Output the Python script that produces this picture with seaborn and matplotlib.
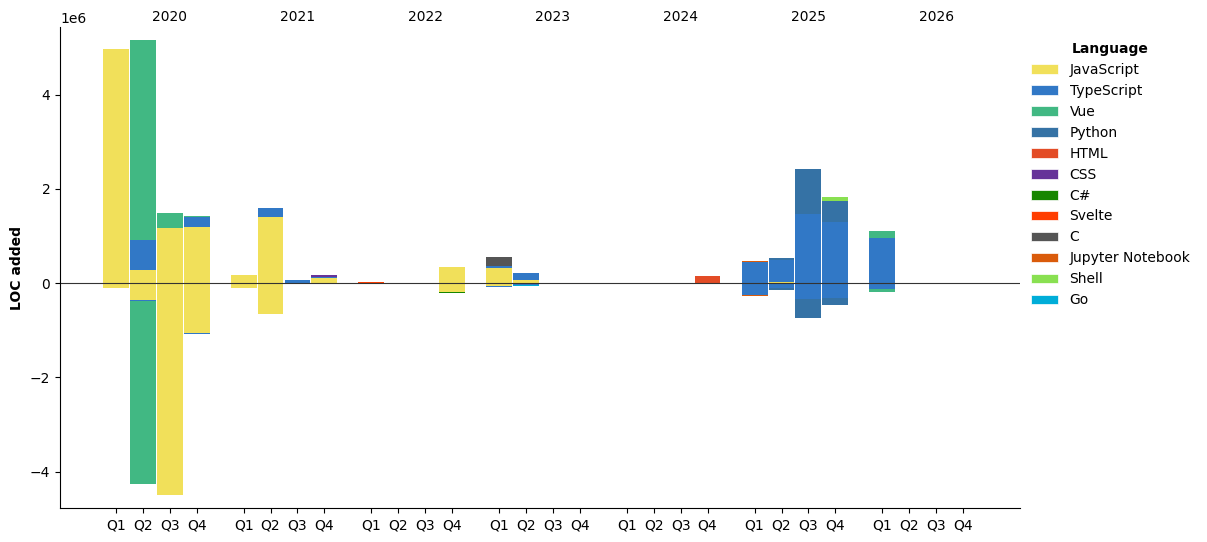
import matplotlib
matplotlib.use("Agg")
import matplotlib.pyplot as plt
from matplotlib.patches import Patch
import pandas as pd
import seaborn as sns

years = [2020, 2021, 2022, 2023, 2024, 2025, 2026]
quarters = ["Q1", "Q2", "Q3", "Q4"]
languages = ["JavaScript", "TypeScript", "Vue", "Python", "HTML", "CSS", "C#",
             "Svelte", "C", "Jupyter Notebook", "Shell", "Go"]

# LOC added / removed per quarter, in millions -> period: (added, removed)
javascript = {"2020Q1": (4.97, -0.11), "2020Q2": (0.27, -0.35), "2020Q3": (1.17, -4.50),
              "2020Q4": (1.19, -1.05), "2021Q1": (0.18, -0.10), "2021Q2": (1.41, -0.65),
              "2021Q4": (0.12, 0.0), "2022Q4": (0.35, -0.18), "2023Q1": (0.33, -0.07),
              "2023Q2": (0.07, -0.02), "2025Q2": (0.03, 0.0)}
typescript = {"2020Q2": (0.65, -0.035), "2020Q4": (0.21, -0.02), "2021Q2": (0.19, 0.0),
              "2021Q3": (0.07, -0.01), "2021Q4": (0.02, 0.0), "2023Q1": (0.035, -0.02),
              "2023Q2": (0.15, -0.02), "2025Q1": (0.45, -0.26), "2025Q2": (0.47, -0.10),
              "2025Q3": (1.47, -0.33), "2025Q4": (1.30, -0.31), "2026Q1": (0.96, -0.12)}
vue = {"2020Q2": (4.24, -3.88), "2020Q3": (0.31, 0.0), "2020Q4": (0.03, 0.0),
       "2026Q1": (0.15, -0.06)}
python = {"2025Q2": (0.04, -0.04), "2025Q3": (0.96, -0.40), "2025Q4": (0.45, -0.15)}
html = {"2024Q4": (0.156, 0.0)}
css = {"2021Q4": (0.04, -0.025)}
csharp = {"2022Q4": (0.0, -0.02)}
svelte = {"2022Q1": (0.025, 0.0)}
c_lang = {"2023Q1": (0.20, 0.0)}
jupyter = {"2025Q1": (0.02, -0.02)}
shell = {"2025Q4": (0.085, 0.0)}
go = {"2023Q2": (0.0, -0.02)}

lang_data = [javascript, typescript, vue, python, html, css, csharp,
             svelte, c_lang, jupyter, shell, go]
colors = ["#f1e05a", "#3178c6", "#41b883", "#3572a5", "#e34c26", "#663399",
          "#178600", "#ff3e00", "#555555", "#da5b0b", "#89e051", "#00add8"]
palette = dict(zip(languages, colors))

YEAR_STEP = 4.75


def pos(period):
    y = years.index(int(period[:4]))
    q = quarters.index(period[4:])
    return y * YEAR_STEP + q


rows = []
for lang, d in zip(languages, lang_data):
    rows.append((lang, 0.0, 0.0, 0.0))   # keep every hue level present
    for period, (added, removed) in d.items():
        rows.append((lang, pos(period), added * 1e6, removed * 1e6))
df = pd.DataFrame(rows, columns=["language", "x", "added", "removed"])

# bin edges: one bin per quarter, small gap between years
edges = []
for i in range(len(years)):
    s = i * YEAR_STEP
    edges += [s - 0.5, s + 0.5, s + 1.5, s + 2.5, s + 3.5]

fig = plt.figure(figsize=(12.07, 5.42), dpi=100)
ax = fig.add_axes([0.0497, 0.0622, 0.7954, 0.888])

for col in ["added", "removed"]:
    sns.histplot(data=df, x="x", weights=col, hue="language",
                 hue_order=languages[::-1], palette=palette, multiple="stack",
                 bins=edges, shrink=0.96, linewidth=0, alpha=1, legend=False, ax=ax)

ax.axhline(0, color="#333333", linewidth=0.8)

ticks = [i * YEAR_STEP + q for i in range(len(years)) for q in range(4)]
ax.set_xticks(ticks, quarters * len(years))
for i, yr in enumerate(years):
    ax.text(i * YEAR_STEP + 2, 1.006, str(yr), transform=ax.get_xaxis_transform(),
            ha="center", va="bottom", fontsize=10)

ax.set_xlim(-2.08, 33.62)
ax.set_ylim(-4.78e6, 5.44e6)
ax.set_xlabel("")
ax.set_ylabel("LOC added", fontweight="bold", fontsize=10)
sns.despine(ax=ax)

handles = [Patch(facecolor=palette[l], edgecolor="white", linewidth=0.5) for l in languages]
ax.legend(handles, languages, title="Language", title_fontproperties={"weight": "bold"},
          loc="upper left", bbox_to_anchor=(0.998, 0.995), frameon=False)

fig.savefig("out.png", dpi=100)
